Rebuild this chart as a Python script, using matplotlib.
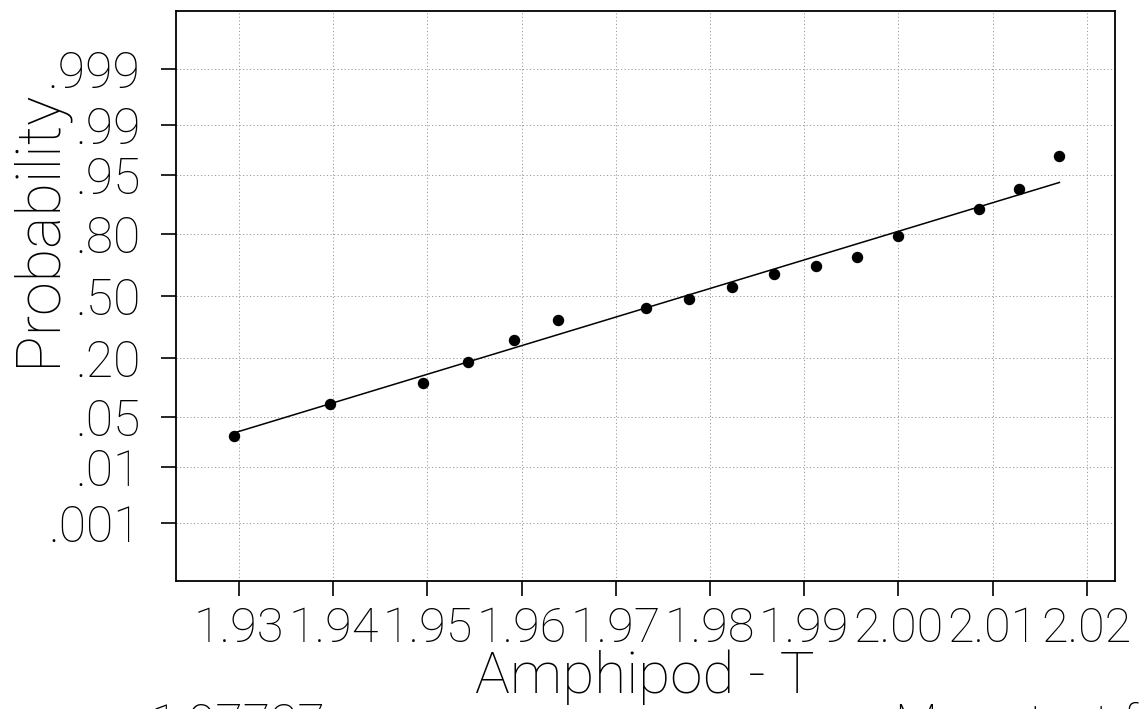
import numpy as np
import matplotlib
matplotlib.use("Agg")
import matplotlib.pyplot as plt
from statistics import NormalDist

# Sample values (Amphipod - T) and their cumulative probabilities
x_vals = [1.9295, 1.9396, 1.9495, 1.9543, 1.9592, 1.9639, 1.9732, 1.9778,
          1.9823, 1.9868, 1.9913, 1.9956, 2.0000, 2.0086, 2.0128, 2.0171]
probs = [0.028, 0.071, 0.117, 0.185, 0.276, 0.370, 0.437, 0.486,
         0.549, 0.616, 0.657, 0.702, 0.794, 0.882, 0.927, 0.972]

# Fitted normal distribution
fit_mean = 1.97737
fit_sd = 0.0257

x_ticks = [1.93, 1.94, 1.95, 1.96, 1.97, 1.98, 1.99, 2.00, 2.01, 2.02]
x_ticklabels = ["1.93", "1.94", "1.95", "1.96", "1.97", "1.98", "1.99", "2.00", "2.01", "2.02"]
p_ticks = [0.001, 0.01, 0.05, 0.20, 0.50, 0.80, 0.95, 0.99, 0.999]
p_ticklabels = [".001", ".01", ".05", ".20", ".50", ".80", ".95", ".99", ".999"]

std_normal = NormalDist()
_inv = np.vectorize(std_normal.inv_cdf, otypes=[float])
_cdf = np.vectorize(std_normal.cdf, otypes=[float])


def p_to_z(p):
    p = np.clip(np.asarray(p, dtype=float), 1e-12, 1 - 1e-12)
    return _inv(p)


def z_to_p(z):
    return _cdf(np.asarray(z, dtype=float))


FONT = "Roboto"
W, H = 1140, 709
fig = plt.figure(figsize=(W / 100, H / 100), dpi=100)
ax = fig.add_axes([176 / W, 1 - 581 / H, (1115 - 176) / W, (581 - 11) / H])

ax.set_yscale("function", functions=(p_to_z, z_to_p))
ax.set_xlim(1.9233, 2.0230)
ax.set_ylim(float(z_to_p(-3.88)), float(z_to_p(3.88)))

# Grid
ax.set_xticks(x_ticks)
ax.set_yticks(p_ticks)
ax.set_yticks([], minor=True)
ax.grid(True, color="#9a9a9a", linestyle=(0, (1.2, 2.4)), linewidth=0.7)
ax.set_axisbelow(True)

# Data and fitted line
ax.scatter(x_vals, probs, s=52, color="black", zorder=3)
x_line = np.array([min(x_vals), max(x_vals)])
p_line = z_to_p((x_line - fit_mean) / fit_sd)
ax.plot(x_line, p_line, color="black", linewidth=1.1, zorder=2)

# Ticks and labels
ax.set_xticklabels(x_ticklabels, fontfamily=FONT, fontweight="light", fontsize=35)
ax.set_yticklabels(p_ticklabels, fontfamily=FONT, fontweight="light", fontsize=36)
ax.tick_params(axis="both", direction="out", length=10.5, width=1.2, color="black")
ax.tick_params(axis="y", pad=15)
ax.tick_params(axis="x", pad=7)

for s in ax.spines.values():
    s.set_linewidth(1.3)
    s.set_color("black")

fig.text(38 / W, 1 - 228 / H, "Probability", rotation=90, ha="center", va="center",
         fontfamily=FONT, fontweight="light", fontsize=44)
fig.text(645 / W, 1 - 693 / H, "Amphipod - T", ha="center", va="baseline",
         fontfamily=FONT, fontweight="light", fontsize=42)

# Summary line below the plot
fig.text(150 / W, 1 - 702 / H, f"{fit_mean:.5f}", ha="left", va="top",
         fontfamily=FONT, fontweight="light", fontsize=36)
fig.text(895 / W, 1 - 702 / H, "Mean test for N", ha="left", va="top",
         fontfamily=FONT, fontweight="light", fontsize=36)

fig.savefig("out.png", dpi=100, facecolor="white")
